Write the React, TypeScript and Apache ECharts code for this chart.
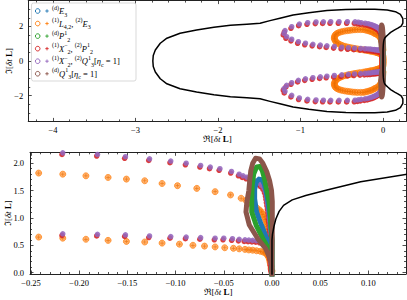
import React, { useEffect, useRef } from 'react';
import * as echarts from 'echarts';

type P = [number, number];

// ---------- tick values ----------
const topXMajor = [-4, -3, -2, -1, 0];
const topXMinor = [-4.2, -3.8, -3.6, -3.4, -3.2, -2.8, -2.6, -2.4, -2.2, -1.8, -1.6, -1.4, -1.2, -0.8, -0.6, -0.4, -0.2, 0.2];
const topYMajor = [-2, 0, 2];
const topYMinor = [-3, -2.5, -1.5, -1, -0.5, 0.5, 1, 1.5, 2.5, 3];
const botXMajor = [-0.25, -0.2, -0.15, -0.1, -0.05, 0, 0.05, 0.1];
const botXMinor = [-0.24, -0.23, -0.22, -0.21, -0.19, -0.18, -0.17, -0.16, -0.14, -0.13, -0.12, -0.11, -0.09, -0.08, -0.07, -0.06, -0.04, -0.03, -0.02, -0.01, 0.01, 0.02, 0.03, 0.04, 0.06, 0.07, 0.08, 0.09, 0.11, 0.12, 0.13];
const botYMajor = [0, 0.5, 1, 1.5, 2];
const botYMinor = [0.1, 0.2, 0.3, 0.4, 0.6, 0.7, 0.8, 0.9, 1.1, 1.2, 1.3, 1.4, 1.6, 1.7, 1.8, 1.9, 2.1];

// ---------- data (upper half, Im >= 0; the spectrum is symmetric) ----------
// stability-region boundary, from leftmost point to the origin
const boundaryUpper: P[] = [
  [-2.79, 0], [-2.785, 0.32], [-2.76, 0.64], [-2.70, 1.03], [-2.62, 1.32], [-2.46, 1.61], [-2.26, 1.80],
  [-2.05, 1.96], [-1.85, 2.07], [-1.65, 2.13], [-1.49, 2.19], [-1.37, 2.34], [-1.25, 2.48], [-1.09, 2.66],
  [-0.90, 2.80], [-0.68, 2.92], [-0.45, 2.98], [-0.28, 3.0], [-0.10, 3.0], [0.05, 2.96], [0.15, 2.86],
  [0.21, 2.70], [0.24, 2.45], [0.24, 2.2], [0.22, 2.02], [0.18, 1.9], [0.141, 1.80], [0.092, 1.66],
  [0.057, 1.51], [0.035, 1.41], [0.021, 1.33], [0.012, 1.23], [0.0074, 1.12], [0.004, 0.98], [0.002, 0.84],
  [0.0005, 0.7], [0, 0.6], [0, 0],
];

// (d)E3 — blue loop
const blueLoop: P[] = [
  [0, 0.2], [-0.002, 0.45], [-0.0053, 0.62], [-0.011, 0.87], [-0.016, 1.11], [-0.018, 1.35], [-0.018, 1.52],
  [-0.0165, 1.65], [-0.0135, 1.71], [-0.0105, 1.70], [-0.008, 1.62], [-0.006, 1.48], [-0.004, 1.28],
  [-0.002, 1.0], [0, 0.6], [0, 0.2],
];

// (d)P2^1 — green loop
const greenLoop: P[] = [
  [0, 0.1], [-0.001, 0.3], [-0.004, 0.45], [-0.0095, 0.62], [-0.0165, 0.87], [-0.021, 1.11], [-0.021, 1.35],
  [-0.0205, 1.6], [-0.019, 1.8], [-0.016, 1.93], [-0.0125, 1.94], [-0.010, 1.86], [-0.0075, 1.7],
  [-0.0055, 1.52], [-0.003, 1.3], [-0.0015, 1.0], [0, 0.6], [0, 0.1],
];

// (d)Q3^1[eta_c=1] — brown loop
const brownLoop: P[] = [
  [0, 0], [0, 0.12], [-0.003, 0.3], [-0.0067, 0.44], [-0.0147, 0.62], [-0.0235, 0.87], [-0.027, 1.11],
  [-0.026, 1.3], [-0.024, 1.5], [-0.023, 1.7], [-0.022, 1.86], [-0.02, 2.0], [-0.017, 2.09], [-0.013, 2.08],
  [-0.0095, 2.0], [-0.0055, 1.85], [-0.0025, 1.68], [-0.0005, 1.5], [0.0003, 1.3], [0.0003, 1.0],
  [0.0002, 0.6], [0, 0.3], [0, 0],
];

// (1)L4,2,(2)E3 — orange eigenvalues, upper and lower edges of the loop
const orangeUpperEdge: P[] = [
  [-0.59, 1.38], [-0.585, 1.46], [-0.575, 1.53], [-0.56, 1.59], [-0.54, 1.64], [-0.515, 1.68], [-0.49, 1.71],
  [-0.46, 1.74], [-0.43, 1.76], [-0.40, 1.78], [-0.37, 1.80], [-0.34, 1.81], [-0.31, 1.82], [-0.275, 1.82],
  [-0.242, 1.82], [-0.217, 1.80], [-0.193, 1.77], [-0.170, 1.74], [-0.151, 1.71], [-0.132, 1.68],
  [-0.114, 1.63], [-0.098, 1.59], [-0.078, 1.54], [-0.059, 1.48], [-0.043, 1.42], [-0.032, 1.36],
  [-0.027, 1.32], [-0.024, 1.285], [-0.021, 1.25], [-0.018, 1.215], [-0.0155, 1.18], [-0.013, 1.145],
  [-0.011, 1.11], [-0.0095, 1.065], [-0.008, 1.02], [-0.007, 0.975], [-0.006, 0.93], [-0.0055, 0.885],
  [-0.005, 0.84], [-0.0045, 0.795], [-0.004, 0.75], [-0.0035, 0.705], [-0.003, 0.66], [-0.0025, 0.615],
];
const orangeLowerEdge: P[] = [
  [-0.59, 1.30], [-0.585, 1.22], [-0.575, 1.14], [-0.56, 1.07], [-0.54, 1.00], [-0.515, 0.94], [-0.49, 0.89],
  [-0.46, 0.85], [-0.43, 0.81], [-0.40, 0.78], [-0.37, 0.75], [-0.34, 0.72], [-0.31, 0.70], [-0.28, 0.675],
  [-0.242, 0.65], [-0.217, 0.63], [-0.193, 0.61], [-0.170, 0.59], [-0.151, 0.57], [-0.132, 0.56],
  [-0.114, 0.54], [-0.096, 0.52], [-0.082, 0.50], [-0.070, 0.485], [-0.059, 0.47], [-0.049, 0.455],
  [-0.040, 0.445], [-0.034, 0.435], [-0.028, 0.425], [-0.024, 0.415], [-0.020, 0.41], [-0.016, 0.40],
  [-0.012, 0.39], [-0.009, 0.375], [-0.0065, 0.355], [-0.005, 0.33], [-0.004, 0.30], [-0.003, 0.265],
  [-0.0025, 0.23], [-0.002, 0.19], [-0.0015, 0.15], [-0.001, 0.11], [-0.001, 0.07], [0, 0.03],
];

// (1)X2^- ,(2)Q3^1 — purple eigenvalues (red shares the (1)X2^- part)
const purpleTopRow: P[] = [
  [-0.001, 0.71], [-0.0015, 0.77], [-0.002, 0.83], [-0.002, 0.89], [-0.0025, 0.95], [-0.003, 1.01],
  [-0.003, 1.07], [-0.0035, 1.13], [-0.004, 1.19], [-0.0045, 1.25], [-0.005, 1.31], [-0.0055, 1.37],
  [-0.006, 1.43], [-0.007, 1.49], [-0.0085, 1.55], [-0.011, 1.60], [-0.014, 1.64], [-0.018, 1.68],
  [-0.022, 1.715], [-0.026, 1.745], [-0.030, 1.77], [-0.034, 1.80], [-0.042, 1.85], [-0.054, 1.90],
  [-0.064, 1.93], [-0.074, 1.96], [-0.089, 2.00], [-0.105, 2.04], [-0.127, 2.08], [-0.152, 2.12],
  [-0.181, 2.16], [-0.217, 2.19], [-0.265, 2.22], [-0.30, 2.25], [-0.339, 2.27], [-0.432, 2.28],
  [-0.533, 2.28], [-0.634, 2.28], [-0.723, 2.27], [-0.812, 2.26], [-0.913, 2.22], [-1.014, 2.14],
  [-1.107, 1.99], [-1.188, 1.76], [-1.20, 1.60], [-1.168, 1.41], [-1.107, 1.26], [-1.026, 1.12],
];
const purpleBottomRow: P[] = [
  [-0.94, 1.03], [-0.85, 0.97], [-0.76, 0.92], [-0.68, 0.88], [-0.59, 0.84], [-0.50, 0.80], [-0.42, 0.77],
  [-0.345, 0.75], [-0.27, 0.725], [-0.217, 0.71], [-0.181, 0.70], [-0.152, 0.69], [-0.127, 0.67],
  [-0.105, 0.66], [-0.089, 0.65], [-0.074, 0.64], [-0.059, 0.63], [-0.050, 0.63], [-0.041, 0.62],
  [-0.034, 0.61], [-0.028, 0.60], [-0.024, 0.595], [-0.020, 0.59], [-0.016, 0.585], [-0.012, 0.575],
  [-0.009, 0.56], [-0.0065, 0.54], [-0.005, 0.51], [-0.004, 0.47], [-0.003, 0.42], [-0.0025, 0.37],
  [-0.002, 0.32], [-0.0015, 0.27], [-0.001, 0.22], [-0.001, 0.17], [-0.0005, 0.12], [-0.0005, 0.07], [0, 0.03],
];

// ---------- legend ----------
const colors = ['#1f77b4', '#ff7f0e', '#2ca02c', '#d62728', '#9467bd', '#8c564b'];
const legendLabels = [
  '{sp|(d)}{i|E}{sb|3}',
  '{sp|(1)}{i|L}{sb|4,2}{n|, }{sp|(2)}{i|E}{sb|3}',
  '{sp|(d)}{i|P}{sp|1}{sb|2}',
  '{sp|(1)}{i|X}{sp|\u2212}{sb|2}{n|, }{sp|(2)}{i|P}{sp|1}{sb|2}',
  '{sp|(1)}{i|X}{sp|\u2212}{sb|2}{n|, }{sp|(2)}{i|Q}{sp|1}{sb|3}{n|[}{i|\u03b7}{sb|c}{n| = 1]}',
  '{sp|(d)}{i|Q}{sp|1}{sb|3}{n|[}{i|\u03b7}{sb|c}{n| = 1]}',
];

const FONT = "'Liberation Serif','DejaVu Serif',serif";

const mirror = (pts: P[]): P[] => pts.map(([x, y]) => [x, -y] as P);
const both = (pts: P[]): P[] => [...pts, ...mirror(pts)];

function fmtInt(v: number) {
  return (v < 0 ? '\u2212' : '') + Math.abs(v).toFixed(0);
}
function fmtDec(d: number) {
  return (v: number) => (v < -1e-9 ? '\u2212' : '') + Math.abs(v).toFixed(d);
}

const nameRich = {
  a: { fontFamily: FONT, fontSize: 9, color: '#000' },
  i: { fontFamily: FONT, fontSize: 9, fontStyle: 'italic', color: '#000' },
  b: { fontFamily: FONT, fontSize: 9, fontWeight: 'bold', color: '#000' },
};
const X_NAME = '{a|\u211c[}{i|\u03b4t}{a| }{b|L}{a|]}';
const Y_NAME = '{a|\u2111[}{i|\u03b4t}{a| }{b|L}{a|]}';

function makeAxes(
  grid: number, min: number, max: number, major: number[], minor: number[],
  fmt: (v: number) => string, isX: boolean, nameGap: number, labelMargin: number,
) {
  const common = { type: 'value', gridIndex: grid, min, max, splitLine: { show: false }, silent: true };
  const line = { show: true, onZero: false, lineStyle: { color: '#222', width: 1 } };
  const noLine = { show: false, onZero: false };
  const tick = (vals: number[], len: number) => ({
    show: true, inside: true, length: len, customValues: vals, lineStyle: { color: '#222', width: 0.8 },
  });
  const p1 = isX ? 'bottom' : 'left';
  const p2 = isX ? 'top' : 'right';
  return [
    {
      ...common, position: p1, axisLine: line, axisTick: tick(major, 3.5),
      axisLabel: { show: true, customValues: major, formatter: fmt, margin: labelMargin, fontFamily: FONT, fontSize: 8.5, color: '#000' },
      name: isX ? X_NAME : Y_NAME, nameLocation: 'middle', nameGap, nameMoveOverlap: false,
      nameTextStyle: { rich: nameRich },
    },
    { ...common, position: p1, axisLine: noLine, axisTick: tick(minor, 2), axisLabel: { show: false } },
    { ...common, position: p2, axisLine: line, axisTick: tick(major, 3.5), axisLabel: { show: false } },
    { ...common, position: p2, axisLine: noLine, axisTick: tick(minor, 2), axisLabel: { show: false } },
  ];
}

const PLUS = 'path://M2,0L3,0L3,2L5,2L5,3L3,3L3,5L2,5L2,3L0,3L0,2L2,2Z';

function panelSeries(ax: number) {
  const base = { xAxisIndex: ax, yAxisIndex: ax, clip: true, silent: true };
  const loop = (pts: P[], color: string, w: number) => ({
    ...base, type: 'line', data: both(pts), symbol: 'none', showSymbol: false,
    lineStyle: { color, width: w, cap: 'round', join: 'round' },
  });
  const orange = [...orangeUpperEdge, ...orangeLowerEdge];
  const purple = [...purpleTopRow, ...purpleBottomRow];
  return [
    loop(blueLoop, colors[0], 5),
    {
      ...base, type: 'scatter', data: both(orange), symbol: 'circle', symbolSize: 6,
      itemStyle: { color: 'rgba(255,127,14,0.78)', borderColor: '#ff7f0e', borderWidth: 0.9 },
    },
    {
      ...base, type: 'scatter', data: both(orange), symbol: PLUS, symbolSize: 3.6,
      itemStyle: { color: 'rgba(232,108,0,0.9)' },
    },
    loop(greenLoop, colors[2], 5),
    {
      ...base, type: 'scatter', data: both(purple), symbol: 'circle', symbolSize: 5.5,
      symbolOffset: [-0.8, 1.6], itemStyle: { color: colors[3], opacity: 0.9 },
    },
    {
      ...base, type: 'scatter', data: both(purple), symbol: 'circle', symbolSize: 5.5,
      itemStyle: { color: colors[4], opacity: 0.88 },
    },
    loop(brownLoop, colors[5], 5),
    {
      ...base, type: 'line', data: [...boundaryUpper, ...mirror(boundaryUpper).reverse()],
      symbol: 'none', showSymbol: false, z: 10,
      lineStyle: { color: '#000', width: 1.5, join: 'round' },
    },
  ];
}

function legendGraphic() {
  const rich = {
    n: { fontFamily: FONT, fontSize: 8.5, lineHeight: 13, color: '#000' },
    i: { fontFamily: FONT, fontSize: 8.5, fontStyle: 'italic', lineHeight: 13, color: '#000' },
    sp: { fontFamily: FONT, fontSize: 6, lineHeight: 6, verticalAlign: 'top', color: '#000' },
    sb: { fontFamily: FONT, fontSize: 6, lineHeight: 6, verticalAlign: 'bottom', color: '#000' },
  };
  const els: any[] = [
    {
      type: 'rect', z: 100, shape: { x: 31.5, y: 3, width: 104.5, height: 78, r: 2 },
      style: { fill: 'rgba(255,255,255,0.85)', stroke: '#cfcfcf', lineWidth: 0.8 },
    },
  ];
  legendLabels.forEach((lab, i) => {
    const y = 11 + i * 12.55;
    const c = colors[i];
    els.push({ type: 'circle', z: 101, shape: { cx: 37.7, cy: y, r: 2.3 }, style: { fill: 'transparent', stroke: c, lineWidth: 1 } });
    els.push({ type: 'line', z: 101, shape: { x1: 45.3, y1: y, x2: 48.7, y2: y }, style: { stroke: c, lineWidth: 0.9 } });
    els.push({ type: 'line', z: 101, shape: { x1: 47, y1: y - 1.7, x2: 47, y2: y + 1.7 }, style: { stroke: c, lineWidth: 0.9 } });
    els.push({
      type: 'text', z: 101, x: 52, y,
      style: { text: lab, rich, align: 'left', verticalAlign: 'middle', fill: '#000', fontFamily: FONT, fontSize: 8.5 },
    });
  });
  return els;
}

export default function App() {
  const ref = useRef<HTMLDivElement>(null);
  useEffect(() => {
    if (!ref.current) return;
    const chart = echarts.init(ref.current, null, { renderer: 'svg' });
    const option: any = {
      animation: false,
      backgroundColor: '#fff',
      grid: [
        { left: 28.25, top: 0.6, width: 377.9, height: 120.8, containLabel: false, outerBoundsMode: 'none' },
        { left: 30, top: 152.3, width: 376, height: 121.7, containLabel: false, outerBoundsMode: 'none' },
      ],
      xAxis: [
        ...makeAxes(0, -4.3, 0.28, topXMajor, topXMinor, fmtInt, true, 13, 4),
        ...makeAxes(1, -0.251, 0.139, botXMajor, botXMinor, fmtDec(2), true, 13, 4.5),
      ],
      yAxis: [
        ...makeAxes(0, -3.5, 3.5, topYMajor, topYMinor, fmtInt, false, 15, 5),
        ...makeAxes(1, -0.025, 2.2, botYMajor, botYMinor, fmtDec(1), false, 17.5, 6),
      ],
      series: [...panelSeries(0), ...panelSeries(4)],
      graphic: legendGraphic(),
    };
    chart.setOption(option);
    return () => chart.dispose();
  }, []);
  return <div ref={ref} style={{ width: 407, height: 300, position: 'absolute', left: 0, top: 0 }} />;
}
